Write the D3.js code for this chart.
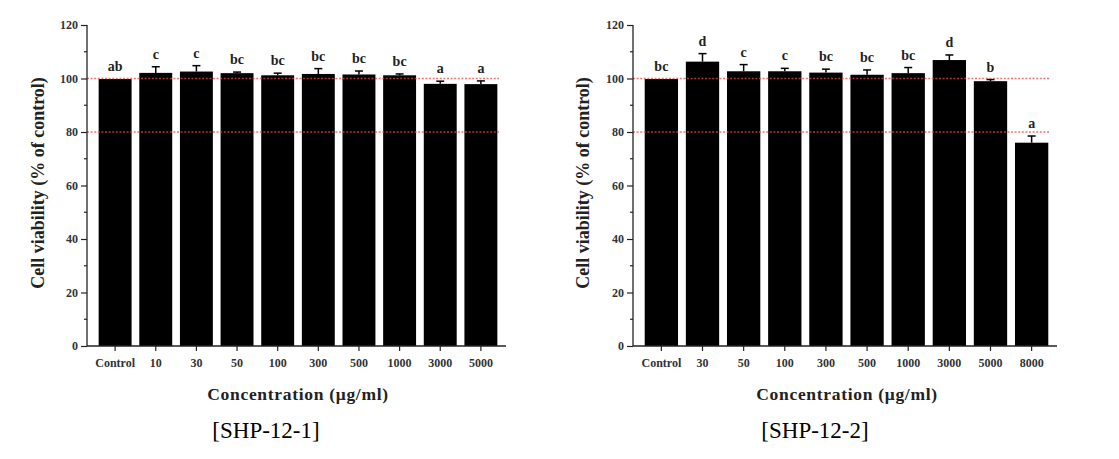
<!DOCTYPE html>
<html><head><meta charset="utf-8">
<script src="https://cdn.jsdelivr.net/npm/d3@7"></script>
<style>body{margin:0;background:#fff} svg text{font-family:"Liberation Serif","Times New Roman",Times,serif;}</style>
</head><body>
<svg id="c" width="1119" height="459"></svg>
<script>
const yTicks = [0, 20, 40, 60, 80, 100, 120];
const refLines = [100, 80];

const cats1 = ["Control", "10", "30", "50", "100", "300", "500", "1000", "3000", "5000"];
const vals1 = [99.8, 102.1, 102.6, 102.0, 101.2, 101.7, 101.5, 101.2, 98.0, 97.9];
const errs1 = [0, 2.3, 2.2, 0.4, 0.8, 2.0, 1.3, 0.5, 1.0, 1.2];
const sig1 = ["ab", "c", "c", "bc", "bc", "bc", "bc", "bc", "a", "a"];

const cats2 = ["Control", "30", "50", "100", "300", "500", "1000", "3000", "5000", "8000"];
const vals2 = [99.8, 106.3, 102.7, 102.7, 102.2, 101.4, 102.0, 106.9, 99.0, 76.0];
const errs2 = [0, 3.0, 2.5, 1.1, 1.3, 1.8, 2.1, 1.9, 0.6, 2.5];
const sig2 = ["bc", "d", "c", "c", "bc", "bc", "bc", "d", "b", "a"];

const svg = d3.select("#c");
const serif = '"Liberation Serif", "Times New Roman", serif';

function panel(o) {
  const g = svg.append("g");
  const y = d3.scaleLinear().domain([0, 120]).range([346, 25]);
  const x = d3.scaleBand().domain(o.cats).range([o.x0 + 8, o.xEnd - 5]).paddingInner(0.19).paddingOuter(0.09);

  g.selectAll("rect.bar").data(o.cats).enter().append("rect")
    .attr("x", d => x(d)).attr("width", x.bandwidth())
    .attr("y", (d, i) => y(o.vals[i])).attr("height", (d, i) => y(0) - y(o.vals[i]))
    .attr("fill", "#000");

  o.cats.forEach((d, i) => {
    if (o.errs[i] <= 0) return;
    const cx = x(d) + x.bandwidth() / 2;
    g.append("line").attr("x1", cx).attr("x2", cx)
      .attr("y1", y(o.vals[i])).attr("y2", y(o.vals[i] + o.errs[i]))
      .attr("stroke", "#000").attr("stroke-width", 1.5);
    g.append("line").attr("x1", cx - 4).attr("x2", cx + 4)
      .attr("y1", y(o.vals[i] + o.errs[i])).attr("y2", y(o.vals[i] + o.errs[i]))
      .attr("stroke", "#000").attr("stroke-width", 1.5);
  });

  g.selectAll("text.sig").data(o.cats).enter().append("text")
    .attr("x", d => x(d) + x.bandwidth() / 2)
    .attr("y", (d, i) => y(o.vals[i] + o.errs[i]) - 8)
    .attr("text-anchor", "middle").style("font-family", serif).attr("font-weight", "bold")
    .attr("font-size", 14).attr("fill", "#222").text((d, i) => o.sig[i]);

  refLines.forEach(v => {
    g.append("line").attr("x1", o.x0).attr("x2", o.refEnd)
      .attr("y1", y(v)).attr("y2", y(v))
      .attr("stroke", "#e84a4a").attr("stroke-width", 1.6)
      .attr("stroke-dasharray", "2,1.6").attr("opacity", 0.75);
  });

  const ya = d3.axisLeft(y).tickValues(yTicks).tickSize(6).tickPadding(3);
  const yg = g.append("g").attr("transform", `translate(${o.x0},0)`).call(ya);
  yg.attr("font-family", null);
  yg.select(".domain").attr("stroke", "#222").attr("stroke-width", 1.3).attr("d", `M-0,346V25`);
  yg.selectAll(".tick line").attr("stroke", "#222").attr("stroke-width", 1.2);
  yg.selectAll(".tick text").style("font-family", serif).attr("font-weight", "bold")
    .attr("font-size", 12).attr("fill", "#333");
  yg.selectAll("line.minor").data(d3.range(10, 120, 20)).enter().append("line")
    .attr("x1", -3).attr("x2", 0).attr("y1", d => y(d)).attr("y2", d => y(d))
    .attr("stroke", "#222").attr("stroke-width", 1.2);

  const xa = d3.axisBottom(x).tickSize(5).tickPadding(7);
  const xg = g.append("g").attr("transform", `translate(0,${y(0)})`).call(xa);
  xg.attr("font-family", null);
  xg.select(".domain").attr("stroke", "#222").attr("stroke-width", 1.6)
    .attr("d", `M${o.x0},0H${o.xEnd}`);
  xg.selectAll(".tick line").attr("stroke", "#222").attr("stroke-width", 1.2);
  xg.selectAll(".tick text").style("font-family", serif).attr("font-weight", "bold")
    .attr("font-size", 12).attr("fill", "#333");

  g.append("text").attr("x", o.xTitleX).attr("y", 400).attr("text-anchor", "middle")
    .style("font-family", serif).attr("font-weight", "bold").attr("font-size", 17.5)
    .attr("letter-spacing", 0.7).attr("fill", "#222").text("Concentration (\u03bcg/ml)");
  g.append("text").attr("transform", `translate(${o.yTitleX},183) rotate(-90)`)
    .attr("text-anchor", "middle").style("font-family", serif).attr("font-weight", "bold")
    .attr("font-size", 18).attr("fill", "#222").text("Cell viability (% of control)");

  g.append("text").attr("x", o.capX).attr("y", 438).attr("text-anchor", "middle")
    .style("font-family", serif).attr("font-size", 23).attr("fill", "#000").text(o.cap);
}

panel({cats: cats1, vals: vals1, errs: errs1, sig: sig1, x0: 87, xEnd: 506, refEnd: 499,
       xTitleX: 298, yTitleX: 44, capX: 266, cap: "[SHP-12-1]"});
panel({cats: cats2, vals: vals2, errs: errs2, sig: sig2, x0: 633, xEnd: 1057, refEnd: 1049,
       xTitleX: 847, yTitleX: 589, capX: 815, cap: "[SHP-12-2]"});
</script>
</body></html>
